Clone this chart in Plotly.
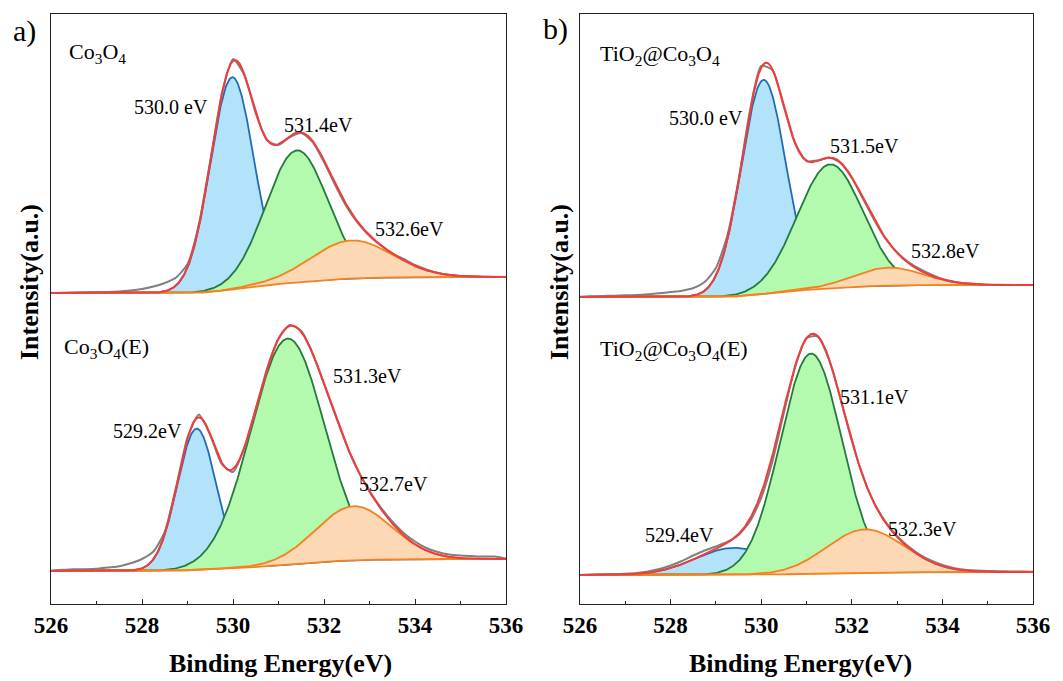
import numpy as np
import plotly.graph_objects as go

# ---------------- data ----------------
# Raw spectra sampled every 0.25 eV, intensity in arbitrary units
RAW_EV = np.round(np.arange(526.0, 536.001, 0.25), 2)

RAW_CO3O4 = [33.3, 33.0, 33.3, 33.5, 33.8, 34.0, 34.5, 35.5, 37.0, 39.5, 43.0, 48.5, 62.0,
             101.5, 165.0, 231.0, 267.0, 251.0, 212.5, 185.5, 181.0, 189.0, 193.0, 184.0,
             164.0, 140.5, 119.0, 102.5, 90.0, 80.5, 72.5, 67.0, 61.0, 56.5, 53.0, 51.0,
             50.0, 49.5, 49.3, 49.0, 49.0]
RAW_CO3O4_E = [33.3, 34.2, 34.8, 34.8, 35.2, 36.5, 37.8, 40.7, 45.0, 52.5, 72.0, 117.0, 166.5,
               189.5, 169.0, 140.0, 132.0, 156.0, 195.0, 235.5, 265.5, 279.0, 273.0, 250.5,
               220.0, 188.5, 158.5, 133.0, 113.0, 96.5, 82.5, 71.0, 62.5, 56.0, 52.0, 49.5,
               48.5, 48.0, 47.5, 47.5, 45.5]
RAW_TIO2 = [29.3, 29.7, 30.0, 30.3, 30.7, 31.0, 31.7, 32.7, 34.0, 35.3, 38.0, 44.0, 58.0,
            90.0, 145.5, 215.0, 260.0, 256.0, 219.0, 182.5, 165.0, 165.5, 168.5, 163.0,
            148.0, 127.0, 105.5, 87.0, 73.5, 64.0, 57.0, 51.5, 47.0, 44.3, 42.7, 42.0,
            41.3, 41.0, 41.0, 41.0, 41.0]
RAW_TIO2_E = [29.0, 29.3, 29.5, 29.8, 30.3, 31.0, 32.5, 35.0, 38.5, 43.0, 48.5, 53.5, 57.5,
              62.0, 69.0, 82.5, 106.0, 143.0, 191.0, 237.0, 266.0, 267.5, 244.0, 205.0,
              163.0, 127.0, 100.5, 82.0, 68.0, 57.5, 49.5, 43.5, 39.0, 36.0, 34.3, 33.5,
              33.0, 32.8, 32.6, 32.5, 32.3]

# Fitted components: centre (eV), height, FWHM (eV); background level low/high BE side
CO3O4_CENTERS = [529.98, 531.4, 532.6]
CO3O4_HEIGHTS = [212, 132, 38]
CO3O4_FWHM = [1.12, 1.6, 2.1]
CO3O4_BG = [33, 49]

CO3O4_E_CENTERS = [529.2, 531.2, 532.65]
CO3O4_E_HEIGHTS = [141, 226, 54]
CO3O4_E_FWHM = [1.0, 1.9, 1.95]
CO3O4_E_BG = [33, 45]

TIO2_CENTERS = [530.05, 531.52, 532.8]
TIO2_HEIGHTS = [214, 124, 18]
TIO2_FWHM = [1.15, 1.7, 1.8]
TIO2_BG = [29, 41]

TIO2_E_CENTERS = [529.4, 531.1, 532.3]
TIO2_E_HEIGHTS = [27, 220, 43]
TIO2_E_FWHM = [2.0, 1.6, 2.0]
TIO2_E_BG = [29, 32]

PEAK_LABELS_CO3O4 = ["530.0 eV", "531.4eV", "532.6eV"]
PEAK_LABELS_CO3O4_E = ["529.2eV", "531.3eV", "532.7eV"]
PEAK_LABELS_TIO2 = ["530.0 eV", "531.5eV", "532.8eV"]
PEAK_LABELS_TIO2_E = ["529.4eV", "531.1eV", "532.3eV"]

X_TICKS = [526, 528, 530, 532, 534, 536]

# ---------------- styling ----------------
FONT = "Liberation Serif"
LINE_COLORS = ["#1f6db3", "#237a3c", "#f5821f"]
FILL_COLORS = ["#b3e3fb", "#b3f9ae", "#fdd8b4"]
BG_COLOR = "#f5821f"
RAW_COLOR = "#808080"
ENV_COLOR = "#f23b3b"
TOP_OFFSET = 278

E = np.linspace(526, 536, 801)


def model(centers, heights, fwhm, bg):
    comps = [h * np.exp(-4 * np.log(2) * (E - c) ** 2 / w ** 2)
             for c, h, w in zip(centers, heights, fwhm)]
    total = np.sum(comps, axis=0)
    cum = np.cumsum(total)
    back = bg[0] + (bg[1] - bg[0]) * cum / cum[-1]
    return comps, back


spectra = [
    ("x", "y", 0, RAW_CO3O4_E, CO3O4_E_CENTERS, CO3O4_E_HEIGHTS, CO3O4_E_FWHM, CO3O4_E_BG),
    ("x", "y", TOP_OFFSET, RAW_CO3O4, CO3O4_CENTERS, CO3O4_HEIGHTS, CO3O4_FWHM, CO3O4_BG),
    ("x2", "y2", 0, RAW_TIO2_E, TIO2_E_CENTERS, TIO2_E_HEIGHTS, TIO2_E_FWHM, TIO2_E_BG),
    ("x2", "y2", TOP_OFFSET, RAW_TIO2, TIO2_CENTERS, TIO2_HEIGHTS, TIO2_FWHM, TIO2_BG),
]

fig = go.Figure()
for xa, ya, off, raw, cen, hei, fw, bg in spectra:
    comps, back = model(cen, hei, fw, bg)
    base = back + off
    for i, g in enumerate(comps):
        fig.add_trace(go.Scatter(
            x=np.concatenate([E, E[::-1]]), y=np.concatenate([base + g, base[::-1]]),
            fill="toself", fillcolor=FILL_COLORS[i], line=dict(width=0),
            mode="lines", hoverinfo="skip", xaxis=xa, yaxis=ya))
        fig.add_trace(go.Scatter(
            x=E, y=base + g, mode="lines", line=dict(color=LINE_COLORS[i], width=1.8),
            xaxis=xa, yaxis=ya))
    fig.add_trace(go.Scatter(x=E, y=base, mode="lines",
                             line=dict(color=BG_COLOR, width=1.8), xaxis=xa, yaxis=ya))
    fig.add_trace(go.Scatter(x=RAW_EV, y=np.array(raw) + off, mode="lines",
                             line=dict(color=RAW_COLOR, width=2, shape="spline", smoothing=0.6),
                             xaxis=xa, yaxis=ya))
    fig.add_trace(go.Scatter(x=E, y=base + np.sum(comps, axis=0), mode="lines",
                             line=dict(color=ENV_COLOR, width=2), xaxis=xa, yaxis=ya))

W, H = 1063, 681
xa_common = dict(range=[526, 536], tickvals=X_TICKS, ticks="inside", ticklen=5, tickwidth=1.3,
                 tickcolor="#222", showline=True, linecolor="#222", linewidth=1.3, mirror=True,
                 showgrid=False, zeroline=False, automargin=False,
                 minor=dict(ticks="inside", ticklen=3, tickwidth=1.2, tickcolor="#222",
                            tickvals=[527, 529, 531, 533, 535]),
                 tickfont=dict(family=FONT, size=23, color="black", weight="bold"))
ya_common = dict(range=[0, 590], showticklabels=False, ticks="", showline=True,
                 linecolor="#222", linewidth=1.3, mirror=True, showgrid=False, zeroline=False,
                 automargin=False)

ydom = [1 - 604 / H, 1 - 14 / H]
fig.update_layout(
    width=W, height=H, margin=dict(l=0, r=0, t=0, b=0, autoexpand=False),
    paper_bgcolor="white", plot_bgcolor="white", showlegend=False,
    xaxis=dict(domain=[51 / W, 506 / W], anchor="y", **xa_common),
    yaxis=dict(domain=ydom, anchor="x", **ya_common),
    xaxis2=dict(domain=[580 / W, 1033 / W], anchor="y2", **xa_common),
    yaxis2=dict(domain=ydom, anchor="x2", **ya_common),
)

ann = []


def label(xref, yref, x, y, text, size=20, xanchor="center"):
    ann.append(dict(x=x, y=y, xref=xref, yref=yref, text=text, showarrow=False,
                    xanchor=xanchor, yanchor="middle",
                    font=dict(family=FONT, size=size, color="black")))


# panel a
label("x", "y", 526.35, 551, "Co<sub>3</sub>O<sub>4</sub>", 22, "left")
label("x", "y", 526.24, 256, "Co<sub>3</sub>O<sub>4</sub>(E)", 22, "left")
for (px, py), t in zip([(528.64, 497), (531.87, 479), (533.89, 375)], PEAK_LABELS_CO3O4):
    label("x", "y", px, py, t)
for (px, py), t in zip([(528.11, 173), (532.95, 228), (533.52, 120)], PEAK_LABELS_CO3O4_E):
    label("x", "y", px, py, t)
# panel b
label("x2", "y2", 526.40, 549, "TiO<sub>2</sub>@Co<sub>3</sub>O<sub>4</sub>", 22, "left")
label("x2", "y2", 526.40, 254, "TiO<sub>2</sub>@Co<sub>3</sub>O<sub>4</sub>(E)", 22, "left")
for (px, py), t in zip([(528.78, 486), (532.29, 458), (534.06, 353)], PEAK_LABELS_TIO2):
    label("x2", "y2", px, py, t)
for (px, py), t in zip([(528.19, 69), (532.51, 207), (533.57, 75)], PEAK_LABELS_TIO2_E):
    label("x2", "y2", px, py, t)


def paper(px, py, text, size, bold=False, angle=0):
    ann.append(dict(x=px / W, y=1 - py / H, xref="paper", yref="paper", text=text,
                    showarrow=False, xanchor="center", yanchor="middle", textangle=angle,
                    font=dict(family=FONT, size=size, color="black",
                              weight="bold" if bold else "normal")))


paper(24, 31, "a)", 30)
paper(555, 29, "b)", 30)
paper(280, 663, "Binding Energy(eV)", 26, True)
paper(800, 663, "Binding Energy(eV)", 26, True)
paper(29, 282, "Intensity(a.u.)", 26, True, -90)
paper(559, 282, "Intensity(a.u.)", 26, True, -90)

fig.update_layout(annotations=ann)
fig.write_html("out.html")
